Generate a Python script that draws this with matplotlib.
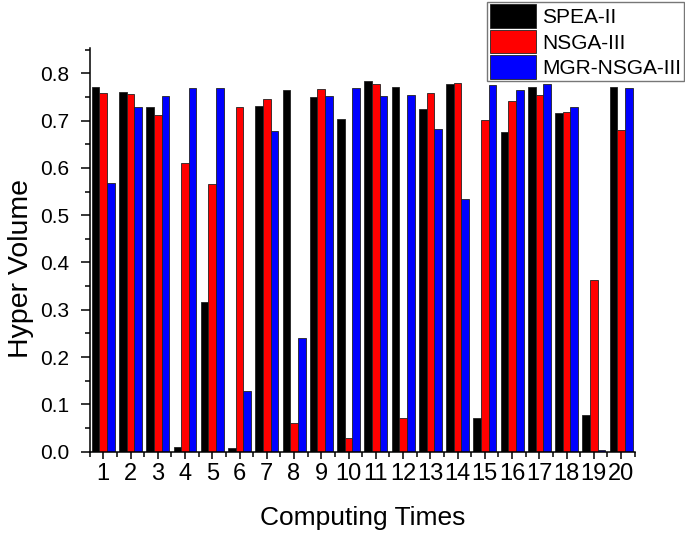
import matplotlib
matplotlib.use("Agg")
import matplotlib.pyplot as plt
import numpy as np
from matplotlib.ticker import MultipleLocator, FormatStrFormatter

plt.rcParams['font.family'] = ['Liberation Sans', 'DejaVu Sans']

# data
runs = list(range(1, 21))
spea2 = [0.770, 0.760, 0.729, 0.009, 0.317, 0.007, 0.731, 0.764, 0.749, 0.704,
         0.783, 0.771, 0.725, 0.777, 0.072, 0.675, 0.770, 0.715, 0.077, 0.770]
nsga3 = [0.758, 0.756, 0.711, 0.610, 0.566, 0.729, 0.746, 0.061, 0.767, 0.030,
         0.778, 0.071, 0.759, 0.779, 0.702, 0.742, 0.754, 0.718, 0.363, 0.680]
mgr_nsga3 = [0.567, 0.729, 0.752, 0.768, 0.769, 0.129, 0.679, 0.240, 0.751, 0.769,
             0.751, 0.754, 0.682, 0.534, 0.775, 0.764, 0.778, 0.729, 0.004, 0.768]
series_names = ["SPEA-II", "NSGA-III", "MGR-NSGA-III"]
series_colors = ["#000000", "#ff0000", "#0000ff"]

fig = plt.figure(figsize=(6.85, 5.38), dpi=100)
ax = fig.add_axes([0.1309, 0.1604, 0.7957, 0.750])

x = np.array(runs)
w = 0.28
for i, (vals, name, col) in enumerate(zip([spea2, nsga3, mgr_nsga3], series_names, series_colors)):
    ax.bar(x + (i - 1) * w, vals, width=w, color=col, edgecolor="#222222",
           linewidth=0.6, label=name)

ax.set_xlim(0.5, 20.5)
ax.set_ylim(0, 0.853)
ax.set_xticks(runs)
ax.xaxis.set_minor_locator(MultipleLocator(0.5))
ax.yaxis.set_major_locator(MultipleLocator(0.1))
ax.yaxis.set_minor_locator(MultipleLocator(0.05))
ax.yaxis.set_major_formatter(FormatStrFormatter('%.1f'))

for side in ['top', 'right']:
    ax.spines[side].set_visible(False)
for side in ['left', 'bottom']:
    ax.spines[side].set_linewidth(1.1)

# x and y tick labels have different sizes in the original
ax.tick_params(axis='x', which='major', direction='out', length=5, width=1.1,
               labelsize=17, pad=3.2)
ax.tick_params(axis='y', which='major', direction='out', length=6.5, width=1.1,
               labelsize=15, pad=8)
ax.tick_params(axis='both', which='minor', direction='out', length=3.5, width=1.1)

ax.set_xlabel("Computing Times", fontsize=19)
ax.set_ylabel("Hyper Volume", fontsize=20.5)
ax.xaxis.set_label_coords(0.5, -0.134)
ax.yaxis.set_label_coords(-0.102, 0.455)

leg = fig.legend(loc='upper right', bbox_to_anchor=(684 / 685, 1 - 2 / 538),
                 fontsize=15, frameon=True, fancybox=False, borderpad=0.12,
                 handlelength=2.2, handleheight=1.35, handletextpad=0.33,
                 labelspacing=0.1, borderaxespad=0)
leg.get_frame().set_edgecolor("#555555")
leg.get_frame().set_linewidth(1.0)

fig.savefig("out.png", dpi=100)
